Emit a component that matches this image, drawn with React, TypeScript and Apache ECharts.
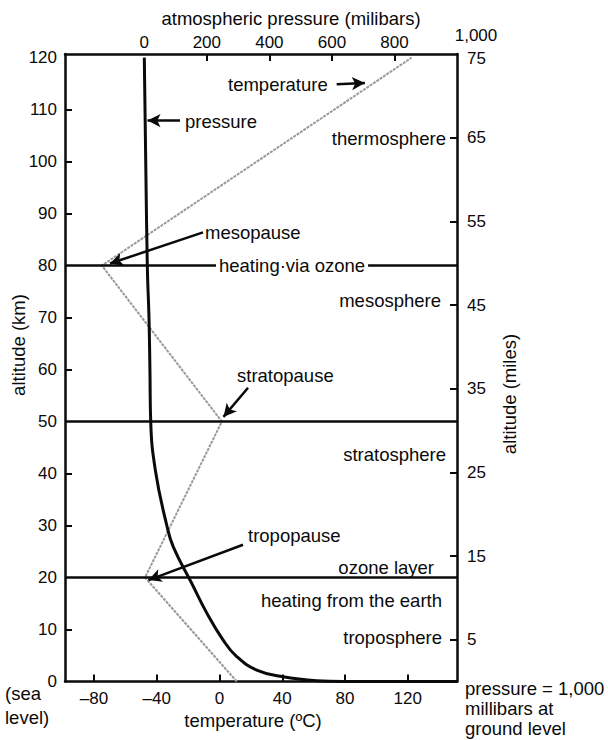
import React, { useEffect, useRef } from "react";
import * as echarts from "echarts";

// ---- axis ticks / labels ----
const kmLabels = [0, 10, 20, 30, 40, 50, 60, 70, 80, 90, 100, 110, 120];
const kmTicks = [10, 30, 40, 60, 70, 90, 100, 110];
const mileLabels = [5, 15, 25, 35, 45, 55, 65];
const mileTicks = [5, 15, 25, 35, 45, 55, 65];
const mileTopLabel = "75";
const tempTicks = [-80, -40, 0, 40, 80, 120];
const pressureLabels = [0, 200, 400, 600, 800];
const pressureTicks = [200, 400, 600, 800];
const pressureEndLabel = "1,000";

// ---- temperature profile (°C vs km) ----
const tempValues = [11, -47.5, 1.5, -75, 122.5];
const tempAltitudes = [0, 20, 50, 80, 120];

// ---- pressure profile (millibars vs km) ----
const pressureAltitudes = [120, 80, 70, 60, 50, 40.4, 30.1, 25.9, 18.9, 13.2, 8.0, 4.8, 2.2, 0.9, 0.15, 0, 0];
const pressureValues = [0, 9.6, 15, 18, 20.5, 36, 71.6, 92.7, 151.6, 199.6, 251.7, 295.5, 359.5, 443.6, 551.3, 635.4, 1000];

// ---- layer boundaries (km) ----
const boundaries = [80, 50, 20];

// ---- annotation arrows [fromT, fromKm, toT, toKm] on temperature/km axes ----
const arrowNames = ["temperature", "pressure", "mesopause", "stratopause", "tropopause"];
const arrowCoords = [
  [74.7, 114.9, 92.7, 115.1],
  [-25.2, 107.9, -45.9, 107.9],
  [-10.5, 86.4, -69.8, 80.4],
  [18.2, 56.5, 2.5, 50.9],
  [15.0, 26.3, -45.3, 19.5],
];

const FONT = '"Liberation Sans", Arial, Helvetica, sans-serif';
const INK = "#0a0a0a";

function txt(text: string, x: number, y: number, align: string = "left", extra: any = {}) {
  return {
    type: "text",
    x,
    y,
    z: 100,
    rotation: extra.rotation || 0,
    style: {
      text,
      fill: INK,
      fontSize: extra.fontSize || 18.5,
      fontFamily: FONT,
      textAlign: align,
      textVerticalAlign: "middle",
      ...(extra.style || {}),
    },
  };
}

export default function App() {
  const ref = useRef<HTMLDivElement>(null);

  useEffect(() => {
    document.body.style.margin = "0";
    const chart = echarts.init(ref.current!, null, { renderer: "svg" });

    const axisLine = { show: true, onZero: false, lineStyle: { color: INK, width: 2.5 } };
    const tickStyle = { color: INK, width: 2 };
    const labelBase = { color: INK, fontSize: 17, fontFamily: FONT };

    const option: any = {
      animation: false,
      backgroundColor: "#fff",
      grid: { left: 65, right: 151, top: 54, bottom: 58.5, containLabel: false, outerBoundsMode: "none" },
      xAxis: [
        {
          type: "value",
          position: "bottom",
          min: -98.5,
          max: 151.4,
          axisLine,
          axisTick: { show: true, inside: true, length: 7, customValues: tempTicks, lineStyle: tickStyle },
          axisLabel: {
            ...labelBase,
            margin: 8,
            customValues: tempTicks,
            formatter: (v: number) => (v < 0 ? "\u2013" + Math.abs(v) : String(v)),
          },
          splitLine: { show: false },
        },
        {
          type: "value",
          position: "top",
          min: -253.6,
          max: 1000,
          axisLine,
          axisTick: { show: true, inside: true, length: 7, customValues: pressureTicks, lineStyle: tickStyle },
          axisLabel: { ...labelBase, margin: 3, customValues: pressureLabels },
          splitLine: { show: false },
        },
      ],
      yAxis: [
        {
          type: "value",
          position: "left",
          min: 0,
          max: 120.7,
          axisLine,
          axisTick: { show: true, inside: true, length: 7, customValues: kmTicks, lineStyle: tickStyle },
          axisLabel: { ...labelBase, margin: 8, padding: [7, 0, 0, 0], customValues: kmLabels },
          splitLine: { show: false },
        },
        {
          type: "value",
          position: "right",
          min: 0,
          max: 75,
          axisLine,
          axisTick: { show: true, inside: true, length: 7, customValues: mileTicks, lineStyle: tickStyle },
          axisLabel: { ...labelBase, margin: 10, padding: [3, 0, 0, 0], customValues: mileLabels },
          splitLine: { show: false },
        },
      ],
      series: [
        {
          name: "temperature",
          type: "line",
          xAxisIndex: 0,
          yAxisIndex: 0,
          data: tempValues.map((t, i) => [t, tempAltitudes[i]]),
          symbol: "none",
          silent: true,
          lineStyle: { color: "#9a9a9a", width: 2, type: [3, 1] },
          markLine: {
            silent: true,
            symbol: "none",
            label: { show: false },
            lineStyle: { color: INK, width: 2.5, type: "solid" },
            data: boundaries.map((b) => ({ yAxis: b })),
          },
          z: 3,
        },
        {
          name: "pressure",
          type: "line",
          xAxisIndex: 1,
          yAxisIndex: 0,
          data: pressureValues.map((p, i) => [p, pressureAltitudes[i]]),
          symbol: "none",
          smooth: 0.45,
          silent: true,
          lineStyle: { color: INK, width: 3 },
          z: 4,
        },
        {
          name: "arrows",
          type: "line",
          xAxisIndex: 0,
          yAxisIndex: 0,
          data: [],
          symbol: "none",
          silent: true,
          markLine: {
            silent: true,
            symbol: ["none", "arrow"],
            symbolSize: [10, 13],
            label: { show: false },
            lineStyle: { color: INK, width: 2.5, type: "solid" },
            data: arrowCoords.map((c, i) => [
              { name: arrowNames[i], coord: [c[0], c[1]] },
              { coord: [c[2], c[3]] },
            ]),
          },
          z: 5,
        },
      ],
      graphic: [
        txt("atmospheric pressure (milibars)", 291, 18, "center"),
        txt(pressureEndLabel, 476, 35, "center", { fontSize: 17 }),
        txt(mileTopLabel, 467, 58, "left", { fontSize: 17 }),
        txt("temperature", 228, 84),
        txt("pressure", 185, 121),
        txt("thermosphere", 446, 138, "right"),
        txt("mesopause", 205, 232),
        txt("heating\u00b7via ozone", 216, 265, "left", { style: { backgroundColor: "#fff", padding: [1, 3] } }),
        txt("mesosphere", 441, 300, "right"),
        txt("stratopause", 237, 375),
        txt("stratosphere", 446, 454, "right"),
        txt("tropopause", 248, 535),
        txt("ozone layer", 434, 567, "right"),
        txt("heating from the earth", 442, 600, "right"),
        txt("troposphere", 442, 637, "right"),
        txt("(sea", 5, 693),
        txt("level)", 5, 717),
        txt("temperature (\u00baC)", 253, 720, "center"),
        txt("pressure = 1,000", 465, 688),
        txt("millibars at", 465, 708),
        txt("ground level", 465, 728),
        txt("altitude (km)", 18, 345, "center", { rotation: Math.PI / 2 }),
        txt("altitude (miles)", 509, 394, "center", { rotation: Math.PI / 2 }),
      ],
    };

    chart.setOption(option);
    return () => chart.dispose();
  }, []);

  return <div ref={ref} style={{ width: 608, height: 740, background: "#fff" }} />;
}
